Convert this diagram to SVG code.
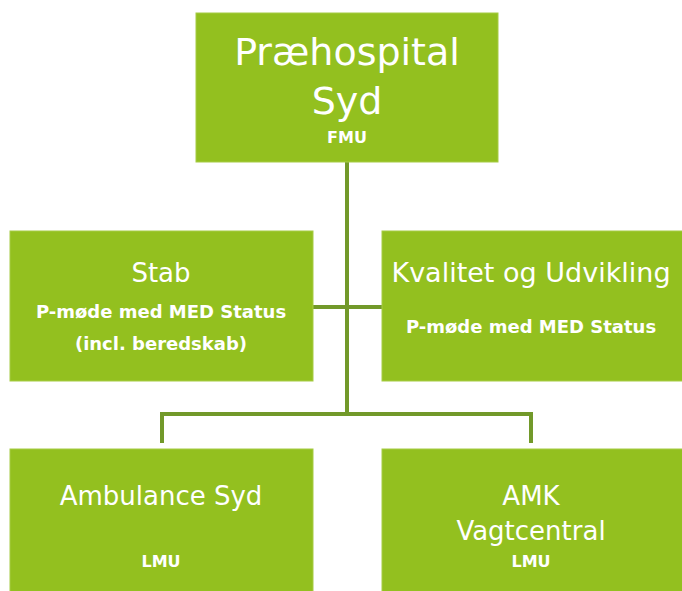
<svg xmlns="http://www.w3.org/2000/svg" width="682" height="591" viewBox="0 0 682 591">
<style>
.box{fill:#93c01f;stroke:#a6cc45;stroke-width:1}
.t{fill:#ffffff;font-family:"DejaVu Sans","Liberation Sans",sans-serif;text-anchor:middle}
.big{font-size:38px}
.mid{font-size:26px}
.sm{font-size:18px;font-weight:bold}
.lmu{font-size:16px;font-weight:bold}
.conn{fill:none;stroke:#72992a;stroke-width:4}
</style>
<rect width="682" height="591" fill="#ffffff"/>
<g id="connectors">
<path class="conn" d="M347 162 V414"/>
<path class="conn" d="M313 307 H382"/>
<path class="conn" d="M162 443 V414 H531 V443"/>
</g>
<g id="node-praehospital">
<rect class="box" x="196" y="13" width="302" height="149"/>
<text class="t big" x="347" y="65">Præhospital</text>
<text class="t big" x="347" y="114">Syd</text>
<text class="t lmu" x="347" y="143">FMU</text>
</g>
<g id="node-stab">
<rect class="box" x="10" y="231" width="303" height="150"/>
<text class="t mid" x="161" y="282">Stab</text>
<text class="t sm" x="161" y="318">P-møde med MED Status</text>
<text class="t sm" x="161" y="350">(incl. beredskab)</text>
</g>
<g id="node-kvalitet">
<rect class="box" x="382" y="231" width="305" height="150"/>
<text class="t mid" x="531" y="282" style="font-size:27px">Kvalitet og Udvikling</text>
<text class="t sm" x="531" y="333">P-møde med MED Status</text>
</g>
<g id="node-ambulance">
<rect class="box" x="10" y="449" width="303" height="150"/>
<text class="t mid" x="161" y="505">Ambulance Syd</text>
<text class="t lmu" x="161" y="567">LMU</text>
</g>
<g id="node-amk">
<rect class="box" x="382" y="449" width="305" height="150"/>
<text class="t mid" x="531" y="505">AMK</text>
<text class="t mid" x="531" y="540">Vagtcentral</text>
<text class="t lmu" x="531" y="567">LMU</text>
</g>
</svg>
